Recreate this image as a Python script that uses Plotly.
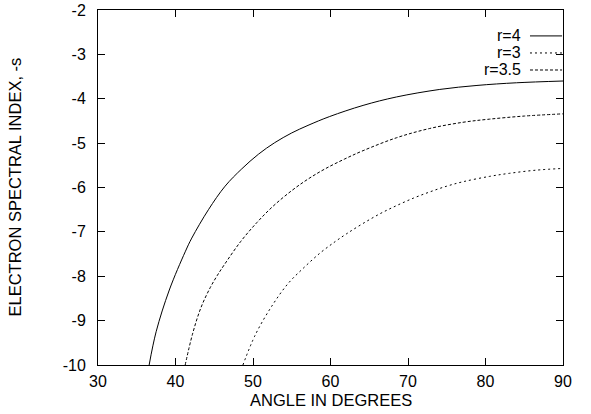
import plotly.graph_objects as go

# ---- data ----
angle_r4 = [36.6, 37.5, 39.2, 41.25, 42.1, 44.25, 46.4, 48.55, 50.7, 52.8, 55.0, 57.1, 59.9,
            64.2, 68.5, 74.1, 78.9, 84.0, 90.0]
s_r4 = [-10.0, -9.25, -8.31, -7.45, -7.14, -6.50, -5.97, -5.58, -5.25, -4.99, -4.77, -4.60, -4.40,
        -4.15, -3.96, -3.79, -3.70, -3.64, -3.60]

angle_r35 = [41.25, 42.2, 43.3, 44.5, 45.4, 46.3, 48.4, 50.5, 52.6, 55.0, 57.1, 59.3, 61.8,
             64.2, 68.5, 72.8, 77.1, 80.5, 85.0, 90.0]
s_r35 = [-10.0, -9.30, -8.70, -8.25, -7.98, -7.74, -7.22, -6.79, -6.42, -6.07, -5.81, -5.58, -5.36,
         -5.17, -4.88, -4.67, -4.53, -4.46, -4.39, -4.34]

angle_r3 = [48.7, 50.3, 52.4, 54.5, 56.6, 58.7, 60.6, 62.1, 64.2, 66.4, 68.5, 70.7, 72.8,
            75.0, 77.1, 80.5, 83.1, 86.5, 90.0]
s_r3 = [-10.0, -9.32, -8.68, -8.17, -7.80, -7.47, -7.22, -7.04, -6.81, -6.59, -6.41, -6.24, -6.10,
        -5.97, -5.87, -5.75, -5.68, -5.61, -5.57]

series_names = ["r=4", "r=3", "r=3.5"]
x_ticks = [30, 40, 50, 60, 70, 80, 90]
x_tick_labels = ["30", "40", "50", "60", "70", "80", "90"]
y_ticks = [-10, -9, -8, -7, -6, -5, -4, -3, -2]
y_tick_labels = ["-10", "-9", "-8", "-7", "-6", "-5", "-4", "-3", "-2"]

series_x = {"r=4": angle_r4, "r=3": angle_r3, "r=3.5": angle_r35}
series_y = {"r=4": s_r4, "r=3": s_r3, "r=3.5": s_r35}
dashes = {"r=4": "solid", "r=3": "2px,3px", "r=3.5": "3px,2px"}

FONT = "Liberation Sans, Arial, Helvetica, sans-serif"

fig = go.Figure()
for name in series_names:
    fig.add_trace(go.Scatter(
        x=series_x[name], y=series_y[name], mode="lines", name=name,
        line=dict(color="black", width=1, dash=dashes[name], shape="spline", smoothing=1.0),
        showlegend=False, cliponaxis=True, hoverinfo="skip",
    ))

# gnuplot-style key: text right-aligned, sample line to its right
annotations = []
shapes = []
row_y = [0.927, 0.879, 0.831]
for i, name in enumerate(series_names):
    annotations.append(dict(
        x=0.914, y=row_y[i], xref="paper", yref="paper", text=name,
        showarrow=False, xanchor="right", yanchor="middle",
        font=dict(family=FONT, size=16, color="black"),
    ))
    shapes.append(dict(
        type="line", xref="paper", yref="paper", x0=0.929, x1=0.998,
        y0=row_y[i], y1=row_y[i],
        line=dict(color="black", width=1, dash=dashes[name]),
    ))

annotations.append(dict(
    x=0.5, y=0, xref="paper", yref="paper", text="ANGLE IN DEGREES",
    showarrow=False, xanchor="center", yanchor="middle", yshift=-35,
    font=dict(family=FONT, size=16.5, color="black"),
))
annotations.append(dict(
    x=0, y=0.5, xref="paper", yref="paper", text="ELECTRON SPECTRAL INDEX, -s",
    showarrow=False, xanchor="center", yanchor="middle", xshift=-84, textangle=-90,
    font=dict(family=FONT, size=16.5, color="black"),
))

axis_common = dict(
    showline=True, linecolor="black", linewidth=1, mirror="ticks",
    ticks="inside", ticklen=7, tickcolor="black", tickwidth=1,
    showgrid=False, zeroline=False,
    tickfont=dict(family=FONT, size=16, color="black"),
)

fig.update_layout(
    width=591, height=414,
    margin=dict(l=98, r=28, t=10, b=49, autoexpand=False),
    paper_bgcolor="white", plot_bgcolor="white",
    xaxis=dict(range=[30, 90], tickvals=x_ticks, ticktext=x_tick_labels,
               ticklabelstandoff=2, **axis_common),
    yaxis=dict(range=[-10, -2], tickvals=y_ticks, ticktext=y_tick_labels,
               ticklabelstandoff=8, **axis_common),
    annotations=annotations, shapes=shapes,
    font=dict(family=FONT, size=16, color="black"),
    hovermode=False,
)

fig.write_html("out.html", config={"displayModeBar": False},
               post_script="document.body.style.margin='0';")
